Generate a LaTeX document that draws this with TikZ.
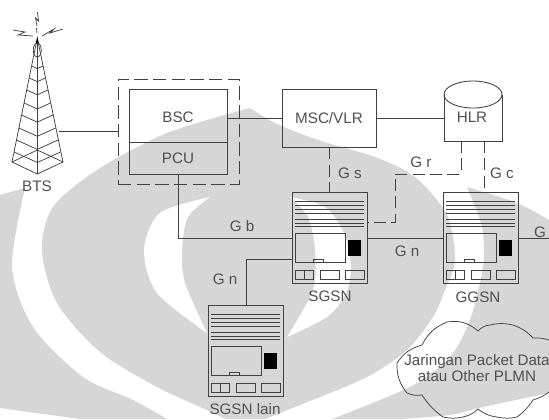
\documentclass[tikz,border=0pt]{standalone}
\usepackage{fontspec}
\setmainfont{Liberation Sans}
\usetikzlibrary{fit,calc}
\definecolor{wm}{HTML}{D6D6D6}
\definecolor{ink}{HTML}{404040}
\definecolor{txt}{HTML}{505050}
\tikzset{
  box/.style={draw=ink,line width=0.65pt,inner sep=0pt,fit={#1}},
  area/.style={inner sep=0pt,fit={#1}},
  link/.style={draw=ink,line width=0.65pt},
  dashlink/.style={draw=ink,line width=0.65pt,dash pattern=on 9pt off 4pt},
  lbl/.style={text=txt,font=\fontsize{11.4}{12.2}\selectfont,inner sep=0pt,align=center},
  devline/.style={draw=ink,line width=0.55pt}
}
\newcommand{\device}[3]{%
  \begin{scope}[shift={(#2,#3)}]
    \node[box={(0,0)(75,91)}] (#1) {};
    \foreach \ly in {9,13,17,21,27,31,34}{\draw[devline] (3,\ly) -- (72,\ly);}
    \node[box={(3,41)(53,70)}] (#1scr) {};
    \draw[devline] (21,70) -- (21,67) -- (31,67) -- (31,70);
    \fill[black] (56,48) rectangle (69,64);
    \node[box={(3,78)(21,87)}] (#1ba) {};
    \draw[devline] (12,78) -- (12,87);
    \node[box={(28,78)(47,87)}] (#1bb) {};
    \node[box={(53,78)(72,87)}] (#1bc) {};
  \end{scope}}
\begin{document}
\begin{tikzpicture}[x=0.75pt,y=-0.75pt]
\clip (0,0) rectangle (549,419);
\fill[white] (0,0) rectangle (549,419);
% watermark
\fill[wm] (0,195) -- plot[smooth] coordinates {(25,188)(12,267)(33,327)(83,377)(133,400)(167,419)} -- (80,419) -- (0,408) -- cycle;
\fill[wm] plot[smooth] coordinates {(250,108)(275,123)(318,140)(375,157)(415,177)(447,215)(455,260)(445,290)(433,317)(407,350)(367,377)(300,405)(265,419)} -- plot[smooth] coordinates {(225,419)(207,410)(157,387)(100,352)(57,303)(42,250)(53,207)(97,170)(167,133)(250,108)} -- cycle;
\fill[wm] plot[smooth] coordinates {(467,187)(517,203)(549,220)} -- (549,393) -- plot[smooth] coordinates {(549,393)(483,407)(450,415)(400,419)} -- (332,419) -- plot[smooth] coordinates {(332,419)(380,400)(417,383)(450,357)(470,320)(483,267)(482,227)(467,187)} -- cycle;
\fill[white] plot[smooth] coordinates {(210,197)(160,213)(144,250)(157,293)(207,333)} -- plot[smooth] coordinates {(207,333)(185,283)(182,250)(188,217)(210,197)} -- cycle;
\fill[white] plot[smooth] coordinates {(290,197)(325,207)(345,235)(351,270)(345,295)(327,317)(287,337)} -- plot[smooth] coordinates {(287,337)(313,290)(315,250)(308,217)(290,197)} -- cycle;

% tower
\node[area={(12,38)(63,174)}] (bts) {};
\draw[devline] (37.3,38) -- (12,162) -- (37.3,174) -- (63,162) -- cycle;
\draw[devline] (37.3,38) -- (37.3,174);
\foreach \ly in {66,78,90,103,115,128,140,152}{
  \pgfmathsetmacro{\hw}{(\ly-38)*25.3/124}
  \pgfmathsetmacro{\cy}{\ly+\hw*0.45}
  \draw[devline] (37.3-\hw,\ly) -- (37.3,\cy) -- (37.3+\hw,\ly);
}
\draw[devline] (12,162) -- (37.3,150) -- (63,162);
\draw[devline] (37.3,50) ellipse (4 and 7);
\fill[black] (36,43) -- (37.3,37) -- (38.6,43) -- cycle;
\draw[devline] (37.5,12) -- (38.5,21) -- (35.5,18) -- (37,26);
\draw[devline] (36.5,28) -- (37,33);
\draw[devline] (13,30) -- (25,32) -- (18,35) -- (33,36);
\draw[devline] (63,29) -- (50,33) -- (54,29) -- (42,36);
\node[lbl] (btslabel) at (37,186) {BTS};

% BSC / PCU
\node[area={(118,79)(239,184)},draw=ink,line width=0.65pt,dash pattern=on 10pt off 4pt] (group) {};
\node[box={(129,89)(227,142)}] (bsc) {};
\node[box={(129,142)(227,174)}] (pcu) {};
\node[lbl] at (178,117) {BSC};
\node[lbl] at (178,158) {PCU};

% MSC, HLR
\node[box={(282,89)(376,147)}] (msc) {};
\node[lbl] at (329,118) {MSC/VLR};
\node[area={(444,81)(502,141)}] (hlr) {};
\draw[link] (444,94.5) -- (444,141) -- (502,141) -- (502,94.5);
\draw[link] (473,94.5) ellipse (29 and 13.5);
\node[lbl] at (472,117) {HLR};

% devices
\device{sgsn}{292}{192}
\device{ggsn}{443}{192}
\device{lain}{208}{305}
\node[lbl] at (330,296) {SGSN};
\node[lbl] at (478,297) {GGSN};
\node[lbl] at (245,409) {SGSN lain};

% named ports
\coordinate (btsport) at (59,131);
\coordinate (edgeport) at (549,238);
\coordinate (gr) at (395,174);
\coordinate (gr2) at (395,222);

% connectors
\draw[link] (btsport) -- (btsport -| group.west);
\draw[link] (bsc.east |- msc.west) -- (msc.west);
\draw[link] (msc.east) -- (hlr.west |- msc.east);
\draw[link] (pcu.south) -- (pcu.south |- 0,238) -- (sgsn.west |- 0,238);
\draw[link] (sgsn.east |- 0,238) -- (ggsn.west |- 0,238);
\draw[link] (ggsn.east |- 0,238) -- (edgeport);
\draw[link] (sgsn.west |- 0,259) -- (246,259) -- (246,0 |- lain.north);
\draw[dashlink] (msc.south) -- (msc.south |- sgsn.north);
\draw[dashlink] (461,141) -- (461,174) -- (gr) -- (gr2) -- (sgsn.east |- gr2);
\draw[dashlink] (484,141) -- (484,192);

% labels
\node[lbl] at (350,173) {G s};
\node[lbl] at (421,162) {G r};
\node[lbl] at (502,173) {G c};
\node[lbl] at (242,226) {G b};
\node[lbl] at (407,251) {G n};
\node[lbl] at (225,279) {G n};
\node[lbl] at (540,232) {G};

% cloud
\draw[devline] (549,340) to[bend right=10] (533,338) to[bend right=30] (490,325) to[bend right=20] (478,331) to[bend right=25] (447,322) to[bend right=20] (422,345) to[bend right=20] (397,363) to[bend right=20] (407,393) to[bend right=15] (422,395) to[bend right=10] (443,417) to[bend right=12] (463,417) to[bend right=15] (478,409) to[bend right=15] (497,417) to[bend right=12] (517,417) to[bend right=10] (533,400) to[bend right=10] (549,392);
\node[lbl] (cloudtext) at (477,368) {Jaringan Packet Data\\atau Other PLMN};
\end{tikzpicture}
\end{document}
